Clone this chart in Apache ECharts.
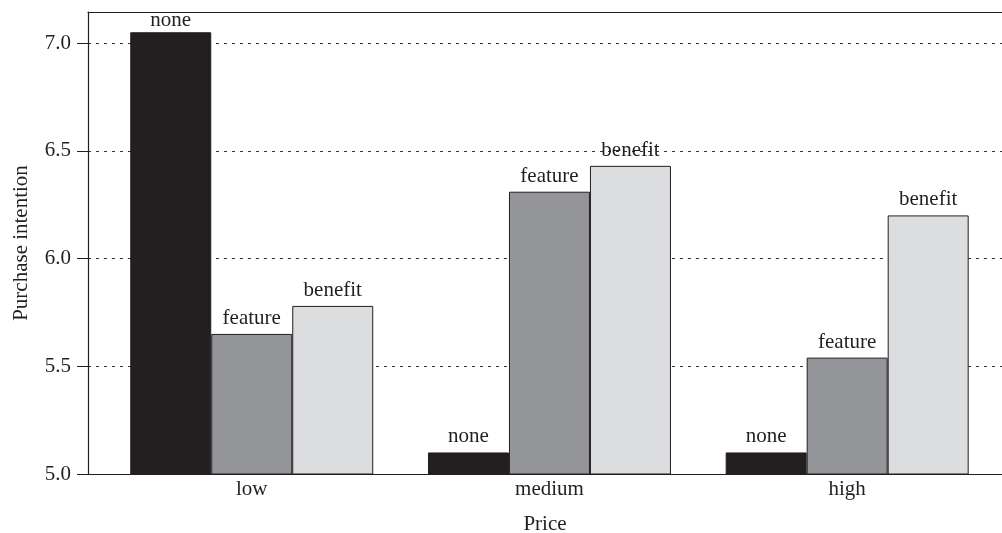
<!DOCTYPE html>
<html>
<head>
<meta charset="utf-8">
<script src="https://cdn.jsdelivr.net/npm/echarts@6/dist/echarts.min.js"></script>
<style>
html,body{margin:0;padding:0;background:#fff;}
#chart{width:1002px;height:533px;}
</style>
</head>
<body>
<div id="chart"></div>
<script>
const categories = ['low', 'medium', 'high'];
const seriesNames = ['none', 'feature', 'benefit'];
const noneValues = [7.05, 5.10, 5.10];
const featureValues = [5.65, 6.31, 5.54];
const benefitValues = [5.78, 6.43, 6.20];
const yTicks = [5.0, 5.5, 6.0, 6.5, 7.0];

const FONT = '"Liberation Serif", "DejaVu Serif", serif';
const FS = 21;
const colors = ['#231f20', '#939598', '#dcdddf'];
const valueSets = [noneValues, featureValues, benefitValues];
const catPos = categories.map((c, i) => i);

const chart = echarts.init(document.getElementById('chart'), null, {renderer: 'canvas'});

const series = seriesNames.map((name, s) => ({
  name: name,
  type: 'bar',
  xAxisIndex: 0,
  barWidth: 81,
  barGap: '0%',
  data: valueSets[s].map((v, i) => {
    const item = { value: [catPos[i], v] };
    if (v > 7.0) item.label = { distance: 1 };
    return item;
  }),
  itemStyle: { color: colors[s], borderColor: '#231f20', borderWidth: 1 },
  label: {
    show: true, position: 'top', distance: 5,
    formatter: '{a}',
    fontFamily: FONT, fontSize: FS, color: '#231f20'
  },
  emphasis: { disabled: true },
  animation: false
}));

const option = {
  animation: false,
  grid: { left: 88, right: 0, top: 12, bottom: 59, containLabel: false, outerBoundsMode: 'none' },
  xAxis: [{
    type: 'value',
    min: -0.55, max: 2.52,
    position: 'bottom',
    axisLine: { show: true, onZero: false, lineStyle: { color: '#231f20', width: 1.2 } },
    axisTick: { show: false },
    splitLine: { show: false },
    axisLabel: {
      customValues: catPos,
      formatter: v => categories[Math.round(v)] || '',
      fontFamily: FONT, fontSize: FS, color: '#231f20', margin: 5
    },
    name: 'Price', nameLocation: 'middle', nameGap: 40,
    nameTextStyle: { fontFamily: FONT, fontSize: FS, color: '#231f20' }
  }, {
    type: 'value',
    min: -0.55, max: 2.52,
    position: 'top',
    axisLine: { show: true, onZero: false, lineStyle: { color: '#231f20', width: 1.2 } },
    axisTick: { show: false },
    splitLine: { show: false },
    axisLabel: { show: false }
  }],
  yAxis: {
    type: 'value',
    min: 5.0, max: 7.144,
    interval: 0.5,
    axisLine: { show: true, onZero: false, lineStyle: { color: '#231f20', width: 1.2 } },
    axisTick: { show: true, length: 11, customValues: yTicks, lineStyle: { color: '#231f20' } },
    axisLabel: {
      customValues: yTicks,
      formatter: v => v.toFixed(1),
      fontFamily: FONT, fontSize: FS, color: '#231f20', margin: 17
    },
    splitLine: { show: true, lineStyle: { color: '#333', type: [3, 5], width: 1 } },
    name: 'Purchase intention', nameLocation: 'middle', nameGap: 56,
    nameTextStyle: { fontFamily: FONT, fontSize: FS, color: '#231f20' }
  },
  series: series
};
chart.setOption(option);
</script>
</body>
</html>
